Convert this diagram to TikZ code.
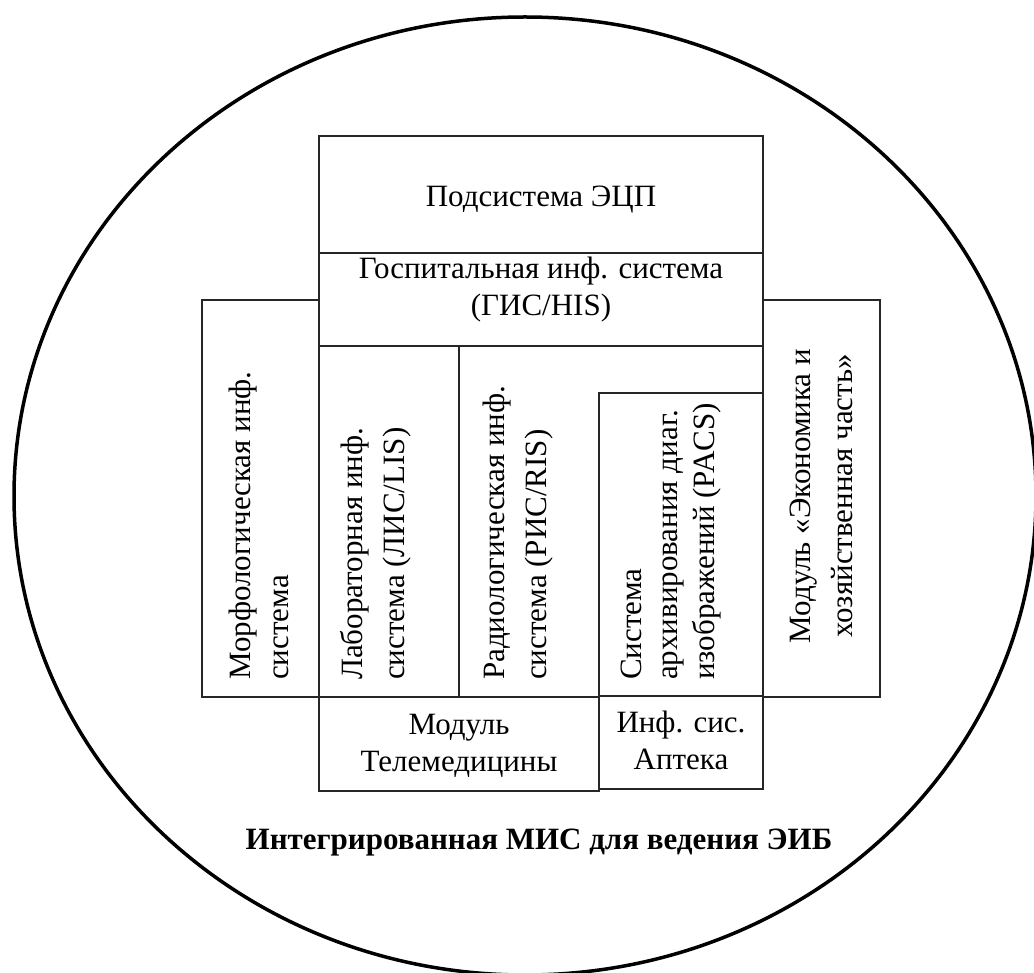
\documentclass[tikz,border=0pt]{standalone}
\usepackage{fontspec}
\setmainfont{Liberation Serif}
\begin{document}
\begin{tikzpicture}[x=1pt,y=-1pt,
  boxline/.style={draw=black!85, line width=1.8pt},
  lbl/.style={inner sep=0pt, align=center, font=\fontsize{31}{37}\selectfont},
  vlbl/.style={lbl, rotate=90, align=left, anchor=west},
  vclbl/.style={lbl, rotate=90, align=center}]
\useasboundingbox (0,0) rectangle (1034,973);
\clip (0,0) rectangle (1034,973);
% outer ellipse
\draw[line width=3.5pt] (525,496) ellipse [x radius=511, y radius=479];
% boxes
\draw[boxline] (319,136) rectangle (763,253);
\draw[boxline] (319,253) rectangle (763,346);
\draw[boxline] (202,300) rectangle (319,697);
\draw[boxline] (763,300) rectangle (880,697);
\draw[boxline] (319,346) rectangle (459,697);
\draw[boxline] (763,346) -- (763,393);
\draw[boxline] (459,697) -- (599,697);
\draw[boxline] (599,393) rectangle (763,696);
\draw[boxline] (319,697) rectangle (599,791);
\draw[boxline] (599,696) rectangle (763,789);
% texts
\node[lbl] (ecp) at (541,200) {Подсистема ЭЦП};
\node[lbl] (his) at (541,290) {Госпитальная инф. система\\(ГИС/HIS)};
\node[vlbl, font=\fontsize{31}{38}\selectfont] (morf) at (259,680) {Морфологическая инф.\\система};
\node[vlbl, font=\fontsize{31}{42}\selectfont] (lis) at (376,680) {Лабораторная инф.\\система (ЛИС/LIS)};
\node[vlbl, font=\fontsize{31}{42}\selectfont] (ris) at (518,680) {Радиологическая инф.\\система (РИС/RIS)};
\node[vlbl, font=\fontsize{31}{36.5}\selectfont] (pacs) at (671,680) {Система\\архивирования диаг.\\изображений (PACS)};
\node[vclbl, font=\fontsize{31}{42}\selectfont] (econ) at (821,496) {Модуль «Экономика и\\хозяйственная часть»};
\node[lbl] (tele) at (459,746) {Модуль\\Телемедицины};
\node[lbl] (apt) at (681,740) {Инф. сис.\\Аптека};
\node[lbl, font=\fontsize{31}{37}\selectfont\bfseries] (title) at (539,843) {Интегрированная МИС для ведения ЭИБ};
\end{tikzpicture}
\end{document}
